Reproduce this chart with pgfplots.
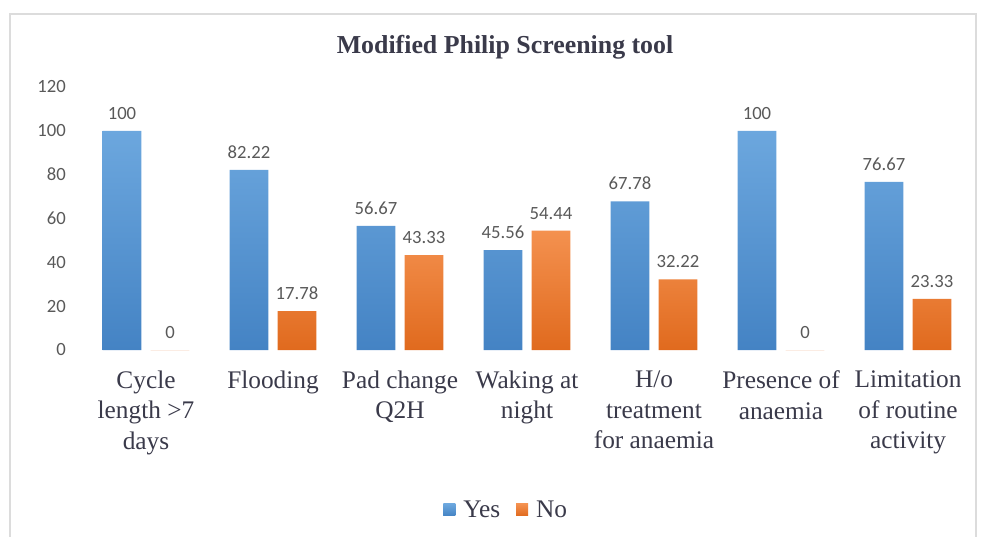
\documentclass[border=0pt]{standalone}
\usepackage{pgfplots}
\pgfplotsset{compat=1.18}
\usepackage{fontspec}
\setmainfont{Liberation Serif}
\newfontfamily\carlito{Carlito}
\definecolor{bluetop}{HTML}{6CA7DE}
\definecolor{bluebot}{HTML}{4483C4}
\definecolor{barblue}{HTML}{5B9BD5}
\definecolor{orangetop}{HTML}{F4914F}
\definecolor{orangebot}{HTML}{E06A1E}
\definecolor{barorange}{HTML}{ED7D31}
\definecolor{labelgrey}{HTML}{595959}
\definecolor{textgrey}{HTML}{3A3A4A}
\definecolor{framegrey}{HTML}{DCDCDC}

\begin{document}
\begin{tikzpicture}
\path[use as bounding box] (-61.875pt,-139.5pt) rectangle (673.875pt,262.5pt);
\draw[framegrey, line width=1pt] (-54.4pt,-145pt) -- (-54.4pt,252pt) -- (670pt,252pt) -- (670pt,-145pt);
\begin{axis}[
    at={(0pt,0pt)}, anchor=south west,
    scale only axis,
    width=666.75pt, height=197.25pt,
    ybar=7pt, bar width=29pt,
    xmin=-0.5, xmax=6.5,
    ymin=0, ymax=120,
    ytick={0,20,...,120},
    xtick=data,
    xticklabels={Cycle\\length >7\\days, Flooding, Pad change\\Q2H, Waking at\\night, H/o\\treatment\\for anaemia, Presence of\\anaemia, Limitation\\of routine\\activity},
    axis line style={draw=none},
    major tick length=0pt,
    /pgf/number format/assume math mode=true,
    yticklabel style={font=\carlito\fontsize{14}{16}\selectfont, text=labelgrey, xshift=-9pt},
    xticklabel style={font=\fontsize{19}{23}\selectfont, text=textgrey, align=center, anchor=north, yshift=-12pt},
    nodes near coords,
    every node near coord/.append style={font=\carlito\fontsize{14}{16}\selectfont, text=labelgrey, yshift=5pt},
    point meta=explicit symbolic,
    legend columns=2,
    legend style={at={(0.477,-0.608)}, anchor=center, draw=none, font=\fontsize{19}{23}\selectfont, text=textgrey,
        /tikz/every even column/.append style={column sep=10pt}},
]
\addplot[draw=none, top color=bluetop, bottom color=bluebot,
    legend image code/.code={\fill[barblue] (0pt,-4.5pt) rectangle (9pt,4.5pt); \path (13pt,0pt);}]
    coordinates {(0,100)[100] (1,82.22)[82.22] (2,56.67)[56.67] (3,45.56)[45.56] (4,67.78)[67.78] (5,100)[100] (6,76.67)[76.67]};
\addlegendentry{Yes}
\addplot[draw=none, top color=orangetop, bottom color=orangebot,
    legend image code/.code={\fill[barorange] (0pt,-4.5pt) rectangle (9pt,4.5pt); \path (13pt,0pt);}]
    coordinates {(0,0)[0] (1,17.78)[17.78] (2,43.33)[43.33] (3,54.44)[54.44] (4,32.22)[32.22] (5,0)[0] (6,23.33)[23.33]};
\addlegendentry{No}
\end{axis}
\node[font=\bfseries\fontsize{19.4}{23}\selectfont, text=textgrey] at (316.9pt,227.25pt) {Modified Philip Screening tool};
\end{tikzpicture}
\end{document}
